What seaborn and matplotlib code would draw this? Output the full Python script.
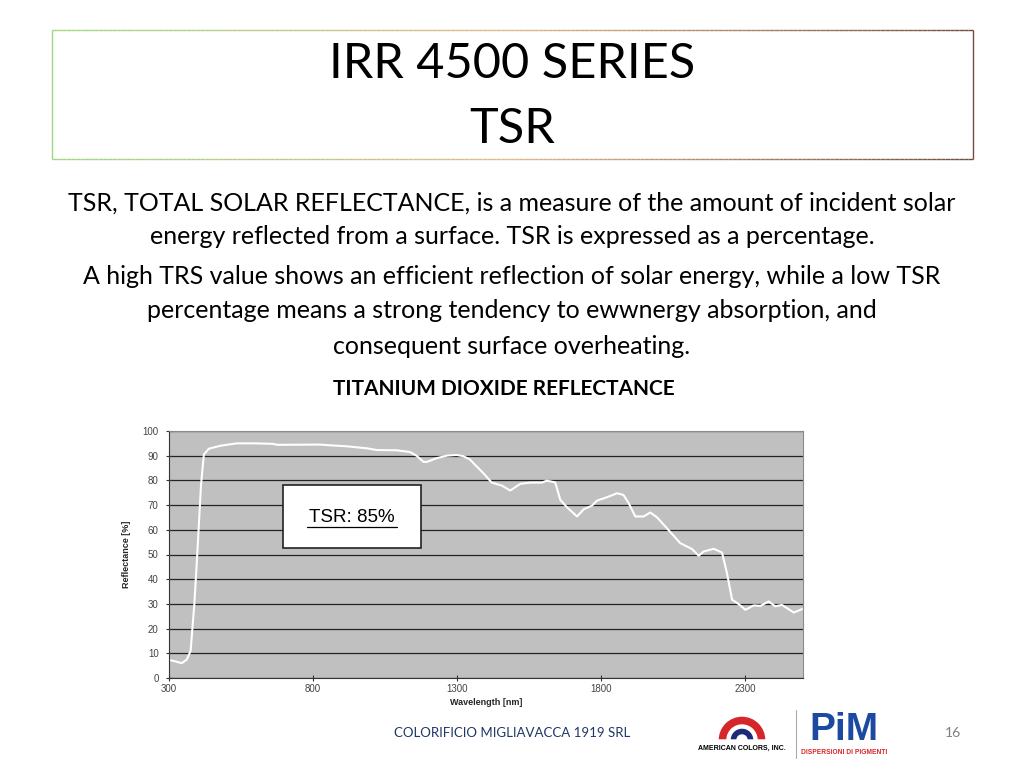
import matplotlib
matplotlib.use("Agg")
import matplotlib.pyplot as plt
import seaborn as sns
import pandas as pd
import numpy as np
from matplotlib.patches import Rectangle, Wedge
from matplotlib.collections import LineCollection

# ==========================================
# DATA

wavelength = [300, 320, 344, 362, 375, 388, 398, 411, 421, 438, 477, 535, 592,
              661, 675, 824, 847, 917, 986, 1021, 1090, 1136, 1159, 1183, 1195,
              1229, 1264, 1298, 1321, 1344, 1357, 1391, 1420, 1455, 1484, 1519,
              1553, 1594, 1611, 1640, 1658, 1681, 1716, 1739, 1768, 1785, 1820,
              1855, 1877, 1895, 1918, 1947, 1970, 1993, 2028, 2074, 2115, 2138,
              2155, 2190, 2219, 2236, 2254, 2277, 2300, 2329, 2352, 2381, 2404,
              2427, 2468, 2497]
reflectance = [7.3, 6.8, 6.0, 7.5, 11, 30, 50, 78, 90.5, 92.8, 94, 95, 95,
               94.8, 94.4, 94.5, 94.3, 93.8, 93, 92.3, 92.2, 91.5, 90, 87.5, 87.5,
               89, 90, 90.3, 89.8, 88.5, 86.9, 82.9, 79.1, 77.9, 75.9, 78.6,
               79.1, 79.1, 79.9, 79.2, 72.1, 69.1, 65.4, 68.3, 69.8, 71.8, 73.2,
               74.8, 74.1, 70.8, 65.4, 65.4, 67, 65.1, 60.6, 54.6, 52.2, 49.5,
               51.2, 52.3, 50.8, 42.5, 31.7, 29.9, 27.6, 29.4, 29.2, 31, 29,
               29.6, 26.5, 27.9]

x_ticks = [300, 800, 1300, 1800, 2300]
y_ticks = [0, 10, 20, 30, 40, 50, 60, 70, 80, 90, 100]

title_lines = ["IRR 4500 SERIES", "TSR"]
body_lines = [
    "TSR, TOTAL SOLAR REFLECTANCE, is a measure of the amount of incident solar",
    "energy reflected from a surface. TSR is expressed as a percentage.",
    "A high TRS value shows an efficient reflection of solar energy, while a low TSR",
    "percentage means a strong tendency to ewwnergy absorption, and",
    "consequent surface overheating.",
]
chart_heading = "TITANIUM DIOXIDE REFLECTANCE"
tsr_label = "TSR: 85%"
footer_text = "COLORIFICIO MIGLIAVACCA 1919 SRL"
page_number = "16"

df = pd.DataFrame({"Wavelength": wavelength, "Reflectance": reflectance})

sns.set_style("white")
plt.rcParams['font.family'] = ['Lato', 'DejaVu Sans']

fig = plt.figure(figsize=(10.24, 7.68), dpi=100)

# slide layer in pixel coordinates
bg = fig.add_axes([0, 0, 1, 1])
bg.set_xlim(0, 1024)
bg.set_ylim(768, 0)
bg.axis("off")

# title box with gradient border
x0, x1, y0, y1 = 52, 973, 30, 159
xs = np.linspace(x0, x1, 200)
c_left = np.array([0.62, 0.85, 0.50])
c_mid = np.array([0.88, 0.72, 0.55])
c_right = np.array([0.45, 0.30, 0.22])


def grad(x):
    t = (x - x0) / (x1 - x0)
    if t < 0.5:
        return c_left + (c_mid - c_left) * (t / 0.5)
    return c_mid + (c_right - c_mid) * ((t - 0.5) / 0.5)


segs, cols = [], []
for a, b in zip(xs[:-1], xs[1:]):
    for yy in (y0, y1):
        segs.append([(a, yy), (b, yy)])
        cols.append(grad((a + b) / 2))
segs.append([(x0, y0), (x0, y1)])
cols.append(grad(x0))
segs.append([(x1, y0), (x1, y1)])
cols.append(grad(x1))
bg.add_collection(LineCollection(segs, colors=cols, linewidths=1.0))

bg.text(512, 64, title_lines[0], ha="center", va="center", fontsize=35, color="black")
bg.text(512, 129, title_lines[1], ha="center", va="center", fontsize=35, color="black")

for line, yy in zip(body_lines, [203, 237, 276, 311, 346]):
    bg.text(512, yy, line, ha="center", va="center", fontsize=18, color="black")

bg.text(504, 389, chart_heading, ha="center", va="center", fontsize=15,
        fontweight="bold", color="black")

bg.text(512, 733, footer_text, ha="center", va="center", fontsize=9.5,
        color="#1f3864")
bg.text(953, 733, page_number, ha="center", va="center", fontsize=10,
        color="#7f7f7f")

# American Colors logo
cx, cy = 742, 740
bg.add_patch(Wedge((cx, cy), 27, 180, 360, width=0.8, facecolor="#888888"))
bg.add_patch(Wedge((cx, cy), 24, 180, 360, width=9, facecolor="#d7262b"))
bg.add_patch(Wedge((cx, cy), 12, 180, 360, width=7, facecolor="#1c2a7a"))
bg.text(742, 748, "AMERICAN COLORS, INC.", ha="center", va="center",
        fontsize=5, fontweight="bold", color="black", family=["Liberation Sans"])
bg.plot([796, 796], [710, 758], color="#aaaaaa", lw=0.8)

# PiM logo
bg.text(844, 740, "PiM", ha="center", va="baseline", fontsize=28,
        fontweight="heavy", color="#1b4aa0", family=["Liberation Sans"])
bg.text(844, 752, "DISPERSIONI DI PIGMENTI", ha="center", va="center",
        fontsize=4.8, fontweight="bold", color="#d7262b", family=["Liberation Sans"])

# ==========================================
# REFLECTANCE CHART

ax = fig.add_axes([169 / 1024, 1 - 678 / 768, 634 / 1024, 247 / 768])
ax.set_facecolor("#c0c0c0")

sns.lineplot(data=df, x="Wavelength", y="Reflectance", ax=ax,
             color="white", linewidth=1.5)

ax.set_xlim(300, 2500)
ax.set_ylim(0, 100)
ax.set_xticks(x_ticks)
ax.set_yticks(y_ticks)
ax.grid(axis="y", color="#222222", linewidth=0.9)
ax.grid(axis="x", visible=False)
ax.set_axisbelow(True)

for s in ax.spines.values():
    s.set_color("#8a8a8a")
    s.set_linewidth(0.8)
ax.spines["left"].set_color("#333333")
ax.spines["bottom"].set_color("#333333")

ax.tick_params(axis="both", direction="inout", length=5, width=0.8,
               colors="#333333", labelsize=7, bottom=True, left=True, pad=2)
ax.tick_params(axis="y", pad=5)
for lab in ax.get_xticklabels() + ax.get_yticklabels():
    lab.set_family(["Liberation Sans"])
    lab.set_color("#444444")

ax.set_xlabel("Wavelength [nm]", fontsize=6.5, fontweight="bold",
              family=["Liberation Sans Narrow", "Liberation Sans"], labelpad=3)
ax.set_ylabel("Reflectance [%]", fontsize=6.5, fontweight="bold",
              family=["Liberation Sans Narrow", "Liberation Sans"], labelpad=8)

# TSR box
bg.add_patch(Rectangle((283, 485), 138, 63, facecolor="white",
                       edgecolor="#222222", linewidth=1.2, zorder=5))
bg.set_zorder(3)
bg.patch.set_visible(False)
bg.text(352, 517, tsr_label, ha="center", va="center", fontsize=13.5,
        color="black", family=["Liberation Sans Narrow", "Liberation Sans"], zorder=6)
bg.plot([307, 397], [527, 527], color="black", lw=0.9, zorder=6)

plt.savefig("out.png", dpi=100)
